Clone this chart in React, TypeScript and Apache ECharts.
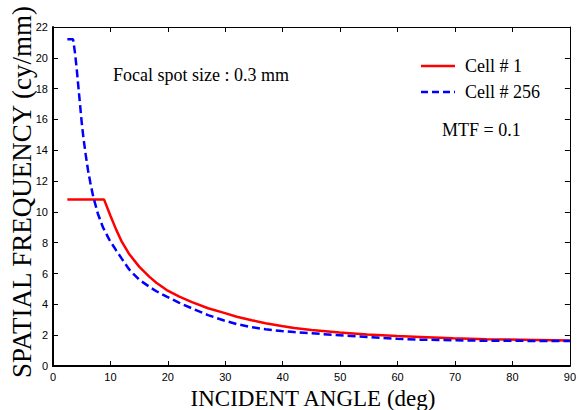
import React, { useEffect, useRef } from "react";
import * as echarts from "echarts";

const redAngles = [2.5, 8.9, 10, 11, 12, 13.3, 15, 16.75, 18, 19.8, 22, 24.2, 27, 29.8, 32, 34.6, 37, 39.8, 42, 45, 49.9, 54.7, 59.9, 64, 69.7, 75.5, 84, 90];
const redValues = [10.8, 10.8, 9.75, 8.85, 8.05, 7.25, 6.45, 5.8, 5.4, 4.93, 4.5, 4.15, 3.75, 3.45, 3.2, 2.97, 2.78, 2.6, 2.47, 2.34, 2.17, 2.05, 1.95, 1.89, 1.8, 1.74, 1.69, 1.65];

const blueAngles = [2.5, 3.5, 3.8, 4.1, 4.4, 4.7, 5.0, 5.3, 5.7, 6.1, 6.5, 7.0, 7.8, 8.7, 9.8, 11, 12, 13.3, 15, 16.75, 18, 19.8, 22, 24.2, 27, 29.8, 32, 34.6, 37, 39.8, 42, 45, 49.9, 54.7, 59.9, 64, 67, 75, 90];
const blueValues = [21.2, 21.2, 20.4, 19.4, 18.2, 17.0, 15.8, 14.8, 13.7, 12.7, 11.9, 11.0, 9.9, 9.0, 8.2, 7.5, 6.95, 6.25, 5.6, 5.15, 4.85, 4.5, 4.1, 3.74, 3.3, 2.95, 2.72, 2.52, 2.38, 2.27, 2.2, 2.12, 2.0, 1.88, 1.77, 1.71, 1.69, 1.64, 1.62];

const seriesNames = ["Cell # 1", "Cell # 256"];
const xTitle = "INCIDENT ANGLE (deg)";
const yTitle = "SPATIAL FREQUENCY (cy/mm)";
const note1 = "Focal spot size : 0.3 mm";
const note2 = "MTF = 0.1";

const serif = "Liberation Serif";
const sans = "Liberation Sans";

export default function App() {
  const ref = useRef<HTMLDivElement>(null);
  useEffect(() => {
    document.body.style.margin = "0";
    const chart = echarts.init(ref.current!, null, { renderer: "svg" });
    const axisBase = {
      axisLine: { show: true, onZero: false, lineStyle: { color: "#000", width: 2 } },
      axisTick: { show: true, inside: true, length: 5, lineStyle: { color: "#000", width: 1 } },
      splitLine: { show: false },
    };
    const sideAxis = {
      axisLine: { show: true, onZero: false, lineStyle: { color: "#000", width: 1 } },
      axisTick: { show: true, inside: true, length: 5, lineStyle: { color: "#000" } },
      axisLabel: { show: false },
      splitLine: { show: false },
    };
    chart.setOption({
      animation: false,
      backgroundColor: "#fff",
      grid: { left: 53, top: 27, right: 5, bottom: 44, containLabel: false },
      xAxis: [
        {
          type: "value", min: 0, max: 90, interval: 10, position: "bottom",
          ...axisBase,
          axisLabel: { color: "#000", fontFamily: sans, fontSize: 11, margin: 5 },
        },
        { type: "value", min: 0, max: 90, interval: 10, position: "top", ...sideAxis },
      ],
      yAxis: [
        {
          type: "value", min: 0, max: 22, interval: 2, position: "left",
          ...axisBase,
          axisLabel: { color: "#000", fontFamily: sans, fontSize: 11, margin: 5 },
        },
        { type: "value", min: 0, max: 22, interval: 2, position: "right", ...sideAxis },
      ],
      series: [
        {
          name: seriesNames[0], type: "line", showSymbol: false, symbol: "none", smooth: false,
          data: redAngles.map((a, i) => [a, redValues[i]]),
          lineStyle: { color: "#ff0000", width: 2.5 },
          itemStyle: { color: "#ff0000" },
        },
        {
          name: seriesNames[1], type: "line", showSymbol: false, symbol: "none", smooth: false,
          data: blueAngles.map((a, i) => [a, blueValues[i]]),
          lineStyle: { color: "#0000ff", width: 2.5, type: [8, 4] },
          itemStyle: { color: "#0000ff" },
        },
      ],
      graphic: [
        {
          type: "line", shape: { x1: 421, y1: 66, x2: 455, y2: 66 },
          style: { stroke: "#ff0000", lineWidth: 2.5 },
        },
        {
          type: "text", x: 465, y: 66,
          style: { text: seriesNames[0], fontFamily: serif, fontSize: 18, fill: "#000", verticalAlign: "middle" },
        },
        {
          type: "line", shape: { x1: 421, y1: 92, x2: 455, y2: 92 },
          style: { stroke: "#0000ff", lineWidth: 2.5, lineDash: [7, 4] },
        },
        {
          type: "text", x: 465, y: 92,
          style: { text: seriesNames[1], fontFamily: serif, fontSize: 18, fill: "#000", verticalAlign: "middle" },
        },
        {
          type: "text", x: 113, y: 75,
          style: { text: note1, fontFamily: serif, fontSize: 18, fill: "#000", verticalAlign: "middle" },
        },
        {
          type: "text", x: 442, y: 130,
          style: { text: note2, fontFamily: serif, fontSize: 18, fill: "#000", verticalAlign: "middle" },
        },
        {
          type: "text", x: 313, y: 398,
          style: { text: xTitle, fontFamily: serif, fontSize: 23, fill: "#000", align: "center", verticalAlign: "middle" },
        },
        {
          type: "text", x: 22, y: 192, rotation: Math.PI / 2,
          style: { text: yTitle, fontFamily: serif, fontSize: 27, fill: "#000", align: "center", verticalAlign: "middle" },
        },
      ],
    });
    return () => chart.dispose();
  }, []);
  return <div ref={ref} style={{ width: 579, height: 410 }} />;
}
